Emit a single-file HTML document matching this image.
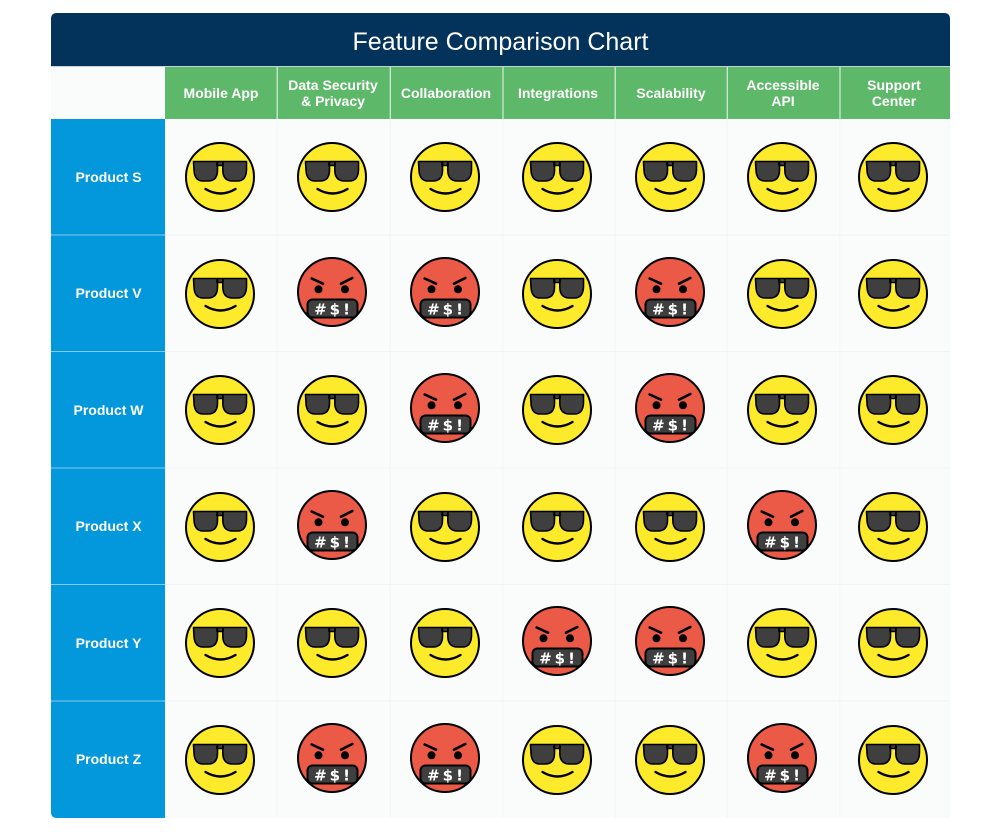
<!DOCTYPE html>
<html><head><meta charset="utf-8"><style>
html,body{margin:0;padding:0;background:#fff;width:1000px;height:832px;overflow:hidden}
svg{display:block}
text{font-family:"Liberation Sans",Arial,sans-serif}
</style></head><body>
<svg width="1000" height="832" viewBox="0 0 1000 832" xmlns="http://www.w3.org/2000/svg">
<defs>
<symbol id="cool" viewBox="-36 -36 72 72" overflow="visible">
<circle r="34" fill="#fcea2b" stroke="#000" stroke-width="2"/>
<path d="M-26.5,-15.5 H-2.5 V-7 Q-2.5,4 -12,4 H-17 Q-25.5,4 -26,-7 Z M2.8,-15.5 H26.5 V-7 Q26,4 17.5,4 H12.5 Q2.8,4 2.8,-7 Z M-3,-15.5 H3 V-11.5 H-3 Z" fill="#3f3f3f" stroke="#000" stroke-width="1.6" stroke-linejoin="round"/>
<path d="M-14.5,12 Q0.5,21 15.5,12" fill="none" stroke="#000" stroke-width="2.4" stroke-linecap="round"/>
</symbol>
<symbol id="angry" viewBox="-36 -36 72 72" overflow="visible">
<circle r="34" fill="#ea5a47" stroke="#000" stroke-width="2"/>
<path d="M-20.3,-13.5 L-9,-8.3 M9,-8.3 L20.3,-14" stroke="#000" stroke-width="2.6" stroke-linecap="round"/>
<circle cx="-13.5" cy="-2.7" r="4" fill="#000"/>
<circle cx="13" cy="-2.7" r="4" fill="#000"/>
<rect x="-24.5" y="7.5" width="50" height="18" rx="5" fill="#3f3f3f" stroke="#000" stroke-width="2"/>
<text x="1.5" y="22.3" text-anchor="middle" fill="#fff" font-size="15" font-weight="bold" letter-spacing="3" style="font-family:'DejaVu Sans',sans-serif">#$!</text>
</symbol>
</defs>

<!-- title bar -->
<path d="M51,19 Q51,13 57,13 H944 Q950,13 950,19 V66 H51 Z" fill="#03325b"/>
<text x="500.5" y="50" text-anchor="middle" fill="#fff" font-size="25">Feature Comparison Chart</text>
<rect x="51" y="66" width="899" height="1" fill="#c8d2da"/>

<!-- header row -->
<rect x="51" y="67" width="114" height="52" fill="#fafcfc"/>
<rect x="165" y="67" width="785" height="52" fill="#5eb86a"/>
<g fill="#d6ecd9">
<rect x="276.6" y="67" width="1.2" height="52"/>
<rect x="389.7" y="67" width="1.2" height="52"/>
<rect x="502.4" y="67" width="1.2" height="52"/>
<rect x="614.6" y="67" width="1.2" height="52"/>
<rect x="726.7" y="67" width="1.2" height="52"/>
<rect x="839.4" y="67" width="1.2" height="52"/>
</g>
<g fill="#fff" font-size="14" font-weight="bold" text-anchor="middle">
<text x="221" y="98">Mobile App</text>
<text x="333" y="90">Data Security</text>
<text x="333" y="106">&amp; Privacy</text>
<text x="446" y="98">Collaboration</text>
<text x="558" y="98">Integrations</text>
<text x="671" y="98">Scalability</text>
<text x="783" y="90">Accessible</text>
<text x="783" y="106">API</text>
<text x="894" y="90">Support</text>
<text x="894" y="106">Center</text>
</g>

<!-- label column -->
<path d="M51,119 H165 V818 H57 Q51,818 51,812 Z" fill="#0397db"/>
<g fill="#84c9ee">
<rect x="51" y="234.5" width="114" height="1"/>
<rect x="51" y="351" width="114" height="1"/>
<rect x="51" y="467.5" width="114" height="1"/>
<rect x="51" y="584" width="114" height="1"/>
<rect x="51" y="700.5" width="114" height="1"/>
</g>
<g fill="#fff" font-size="14" font-weight="bold" text-anchor="middle">
<text x="108.5" y="182">Product S</text>
<text x="108.5" y="298">Product V</text>
<text x="108.5" y="415">Product W</text>
<text x="108.5" y="531">Product X</text>
<text x="108.5" y="648">Product Y</text>
<text x="108.5" y="764">Product Z</text>
</g>

<!-- body -->
<rect x="165" y="119" width="785" height="699" fill="#fafcfc"/>
<g fill="#f1f5f5">
<rect x="276.6" y="119" width="1" height="699"/>
<rect x="389.7" y="119" width="1" height="699"/>
<rect x="502.4" y="119" width="1" height="699"/>
<rect x="614.6" y="119" width="1" height="699"/>
<rect x="726.7" y="119" width="1" height="699"/>
<rect x="839.4" y="119" width="1" height="699"/>
<rect x="165" y="234.5" width="785" height="1"/>
<rect x="165" y="351" width="785" height="1"/>
<rect x="165" y="467.5" width="785" height="1"/>
<rect x="165" y="584" width="785" height="1"/>
<rect x="165" y="700.5" width="785" height="1"/>
</g>

<g>
<!-- Row S -->
<use href="#cool" x="184" y="141" width="72" height="72"/>
<use href="#cool" x="296" y="141" width="72" height="72"/>
<use href="#cool" x="409" y="141" width="72" height="72"/>
<use href="#cool" x="521" y="141" width="72" height="72"/>
<use href="#cool" x="634" y="141" width="72" height="72"/>
<use href="#cool" x="746" y="141" width="72" height="72"/>
<use href="#cool" x="857" y="141" width="72" height="72"/>
<!-- Row V -->
<use href="#cool" x="184" y="258" width="72" height="72"/>
<use href="#angry" x="296" y="256" width="72" height="72"/>
<use href="#angry" x="409" y="256" width="72" height="72"/>
<use href="#cool" x="521" y="258" width="72" height="72"/>
<use href="#angry" x="634" y="256" width="72" height="72"/>
<use href="#cool" x="746" y="258" width="72" height="72"/>
<use href="#cool" x="857" y="258" width="72" height="72"/>
<!-- Row W -->
<use href="#cool" x="184" y="374" width="72" height="72"/>
<use href="#cool" x="296" y="374" width="72" height="72"/>
<use href="#angry" x="409" y="372" width="72" height="72"/>
<use href="#cool" x="521" y="374" width="72" height="72"/>
<use href="#angry" x="634" y="372" width="72" height="72"/>
<use href="#cool" x="746" y="374" width="72" height="72"/>
<use href="#cool" x="857" y="374" width="72" height="72"/>
<!-- Row X -->
<use href="#cool" x="184" y="491" width="72" height="72"/>
<use href="#angry" x="296" y="489" width="72" height="72"/>
<use href="#cool" x="409" y="491" width="72" height="72"/>
<use href="#cool" x="521" y="491" width="72" height="72"/>
<use href="#cool" x="634" y="491" width="72" height="72"/>
<use href="#angry" x="746" y="489" width="72" height="72"/>
<use href="#cool" x="857" y="491" width="72" height="72"/>
<!-- Row Y -->
<use href="#cool" x="184" y="607" width="72" height="72"/>
<use href="#cool" x="296" y="607" width="72" height="72"/>
<use href="#cool" x="409" y="607" width="72" height="72"/>
<use href="#angry" x="521" y="605" width="72" height="72"/>
<use href="#angry" x="634" y="605" width="72" height="72"/>
<use href="#cool" x="746" y="607" width="72" height="72"/>
<use href="#cool" x="857" y="607" width="72" height="72"/>
<!-- Row Z -->
<use href="#cool" x="184" y="724" width="72" height="72"/>
<use href="#angry" x="296" y="722" width="72" height="72"/>
<use href="#angry" x="409" y="722" width="72" height="72"/>
<use href="#cool" x="521" y="724" width="72" height="72"/>
<use href="#cool" x="634" y="724" width="72" height="72"/>
<use href="#angry" x="746" y="722" width="72" height="72"/>
<use href="#cool" x="857" y="724" width="72" height="72"/>
</g>
</svg>
</body></html>
